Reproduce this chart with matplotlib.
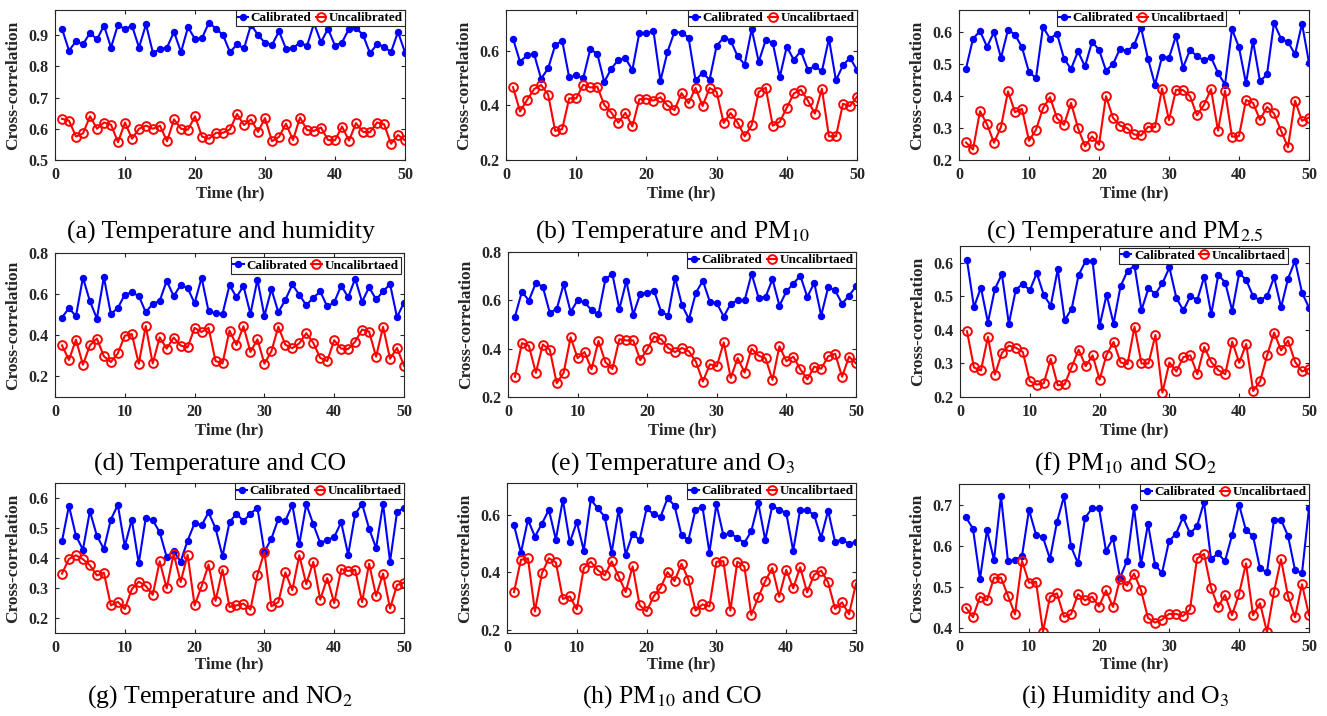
import matplotlib.pyplot as plt
import numpy as np

plt.rcParams['font.family'] = ['Liberation Serif', 'DejaVu Serif']
plt.rcParams['mathtext.fontset'] = 'stix'

hours = np.arange(1, 51)

# (a) Temperature and humidity
cal_a = [0.92, 0.85, 0.88, 0.87, 0.907, 0.886, 0.93, 0.86, 0.933, 0.918,
         0.93, 0.86, 0.934, 0.842, 0.855, 0.86, 0.91, 0.845, 0.925, 0.887,
         0.89, 0.94, 0.92, 0.90, 0.845, 0.87, 0.857, 0.933, 0.90, 0.875,
         0.868, 0.912, 0.856, 0.858, 0.876, 0.865, 0.937, 0.877, 0.92, 0.866,
         0.876, 0.92, 0.923, 0.90, 0.842, 0.87, 0.863, 0.845, 0.91, 0.844]
unc_a = [0.632, 0.626, 0.575, 0.585, 0.64, 0.60, 0.62, 0.613, 0.557, 0.62,
         0.568, 0.60, 0.61, 0.60, 0.61, 0.56, 0.63, 0.60, 0.597, 0.64,
         0.575, 0.568, 0.587, 0.587, 0.598, 0.647, 0.612, 0.63, 0.59, 0.634,
         0.56, 0.574, 0.616, 0.564, 0.636, 0.596, 0.593, 0.604, 0.564, 0.563,
         0.607, 0.562, 0.618, 0.59, 0.589, 0.62, 0.615, 0.552, 0.58, 0.563]

# (b) Temperature and PM10
cal_b = [0.645, 0.56, 0.584, 0.588, 0.498, 0.536, 0.62, 0.638, 0.503, 0.51,
         0.50, 0.606, 0.59, 0.486, 0.535, 0.567, 0.574, 0.53, 0.667, 0.664,
         0.674, 0.49, 0.596, 0.67, 0.667, 0.649, 0.492, 0.52, 0.494, 0.618,
         0.649, 0.638, 0.58, 0.55, 0.68, 0.56, 0.64, 0.63, 0.504, 0.616,
         0.567, 0.60, 0.531, 0.544, 0.525, 0.645, 0.492, 0.547, 0.575, 0.53]
unc_b = [0.467, 0.378, 0.42, 0.46, 0.475, 0.44, 0.307, 0.313, 0.426, 0.426,
         0.476, 0.466, 0.469, 0.402, 0.374, 0.337, 0.373, 0.323, 0.423, 0.425,
         0.418, 0.43, 0.40, 0.383, 0.445, 0.408, 0.464, 0.398, 0.464, 0.45,
         0.336, 0.372, 0.337, 0.287, 0.328, 0.45, 0.465, 0.326, 0.34, 0.392,
         0.444, 0.458, 0.418, 0.37, 0.461, 0.287, 0.287, 0.406, 0.398, 0.432]

# (c) Temperature and PM2.5
cal_c = [0.486, 0.58, 0.604, 0.555, 0.60, 0.52, 0.608, 0.593, 0.553, 0.475,
         0.457, 0.617, 0.58, 0.596, 0.518, 0.485, 0.54, 0.493, 0.57, 0.546,
         0.48, 0.50, 0.549, 0.54, 0.56, 0.615, 0.517, 0.436, 0.523, 0.52,
         0.589, 0.489, 0.545, 0.525, 0.512, 0.522, 0.473, 0.436, 0.61, 0.553,
         0.44, 0.573, 0.447, 0.468, 0.63, 0.58, 0.57, 0.531, 0.627, 0.505]
unc_c = [0.255, 0.233, 0.353, 0.312, 0.254, 0.304, 0.415, 0.35, 0.36, 0.26,
         0.295, 0.362, 0.397, 0.331, 0.31, 0.379, 0.30, 0.243, 0.274, 0.248,
         0.40, 0.332, 0.308, 0.30, 0.28, 0.277, 0.304, 0.303, 0.424, 0.325,
         0.42, 0.419, 0.40, 0.34, 0.373, 0.422, 0.292, 0.417, 0.273, 0.275,
         0.388, 0.379, 0.326, 0.366, 0.346, 0.292, 0.24, 0.386, 0.323, 0.333]

# (d) Temperature and CO
cal_d = [0.486, 0.532, 0.493, 0.68, 0.566, 0.481, 0.683, 0.504, 0.532, 0.598,
         0.608, 0.592, 0.512, 0.553, 0.567, 0.665, 0.59, 0.644, 0.63, 0.556,
         0.68, 0.517, 0.506, 0.504, 0.644, 0.585, 0.64, 0.504, 0.67, 0.494,
         0.624, 0.512, 0.572, 0.647, 0.597, 0.546, 0.582, 0.613, 0.54, 0.56,
         0.642, 0.585, 0.675, 0.563, 0.634, 0.574, 0.613, 0.649, 0.488, 0.559]
unc_d = [0.351, 0.28, 0.379, 0.257, 0.351, 0.384, 0.298, 0.27, 0.312, 0.398,
         0.406, 0.262, 0.445, 0.263, 0.39, 0.335, 0.389, 0.35, 0.341, 0.436,
         0.416, 0.436, 0.275, 0.263, 0.423, 0.353, 0.444, 0.319, 0.38, 0.262,
         0.322, 0.442, 0.354, 0.337, 0.361, 0.41, 0.363, 0.29, 0.275, 0.376,
         0.335, 0.333, 0.369, 0.428, 0.418, 0.296, 0.441, 0.286, 0.338, 0.252]

# (e) Temperature and O3
cal_e = [0.533, 0.636, 0.599, 0.672, 0.656, 0.549, 0.564, 0.667, 0.552, 0.60,
         0.592, 0.559, 0.542, 0.688, 0.709, 0.564, 0.68, 0.541, 0.627, 0.632,
         0.639, 0.553, 0.537, 0.694, 0.58, 0.522, 0.632, 0.681, 0.594, 0.588,
         0.533, 0.586, 0.60, 0.60, 0.71, 0.611, 0.614, 0.687, 0.578, 0.637,
         0.669, 0.702, 0.614, 0.672, 0.537, 0.654, 0.641, 0.586, 0.619, 0.658]
unc_e = [0.284, 0.423, 0.412, 0.30, 0.417, 0.396, 0.257, 0.301, 0.447, 0.361,
         0.386, 0.315, 0.432, 0.344, 0.316, 0.439, 0.434, 0.434, 0.353, 0.397,
         0.45, 0.439, 0.403, 0.386, 0.403, 0.389, 0.346, 0.264, 0.335, 0.327,
         0.426, 0.279, 0.361, 0.301, 0.40, 0.371, 0.36, 0.271, 0.41, 0.348,
         0.367, 0.315, 0.273, 0.326, 0.317, 0.368, 0.379, 0.284, 0.367, 0.339]

# (f) PM10 and SO2
cal_f = [0.608, 0.468, 0.526, 0.422, 0.522, 0.566, 0.418, 0.52, 0.537, 0.518,
         0.569, 0.504, 0.472, 0.58, 0.429, 0.463, 0.564, 0.605, 0.605, 0.412,
         0.505, 0.419, 0.53, 0.576, 0.591, 0.459, 0.524, 0.507, 0.539, 0.586,
         0.495, 0.458, 0.50, 0.49, 0.559, 0.447, 0.564, 0.541, 0.457, 0.569,
         0.549, 0.50, 0.488, 0.501, 0.557, 0.467, 0.553, 0.606, 0.511, 0.466]
unc_f = [0.396, 0.288, 0.279, 0.379, 0.267, 0.331, 0.353, 0.347, 0.334, 0.247,
         0.237, 0.241, 0.314, 0.235, 0.238, 0.29, 0.341, 0.292, 0.324, 0.252,
         0.326, 0.364, 0.303, 0.298, 0.409, 0.30, 0.30, 0.385, 0.213, 0.303,
         0.276, 0.319, 0.324, 0.268, 0.349, 0.304, 0.28, 0.268, 0.365, 0.302,
         0.358, 0.218, 0.247, 0.324, 0.392, 0.339, 0.368, 0.305, 0.276, 0.284]

# (g) Temperature and NO2
cal_g = [0.456, 0.574, 0.474, 0.428, 0.556, 0.474, 0.43, 0.528, 0.577, 0.439,
         0.528, 0.382, 0.533, 0.526, 0.486, 0.403, 0.423, 0.388, 0.458, 0.516,
         0.509, 0.552, 0.499, 0.406, 0.519, 0.548, 0.523, 0.548, 0.567, 0.421,
         0.464, 0.531, 0.524, 0.577, 0.446, 0.579, 0.513, 0.45, 0.46, 0.47,
         0.519, 0.411, 0.546, 0.58, 0.498, 0.433, 0.58, 0.388, 0.553, 0.567]
unc_g = [0.348, 0.397, 0.409, 0.396, 0.376, 0.342, 0.351, 0.242, 0.254, 0.23,
         0.296, 0.321, 0.307, 0.277, 0.389, 0.299, 0.414, 0.32, 0.411, 0.242,
         0.306, 0.378, 0.257, 0.361, 0.237, 0.242, 0.248, 0.228, 0.344, 0.42,
         0.239, 0.253, 0.352, 0.293, 0.409, 0.313, 0.387, 0.261, 0.333, 0.25,
         0.363, 0.357, 0.361, 0.253, 0.381, 0.274, 0.348, 0.232, 0.31, 0.318]

# (h) PM10 and CO
cal_h = [0.564, 0.468, 0.583, 0.524, 0.569, 0.617, 0.514, 0.652, 0.504, 0.575,
         0.476, 0.653, 0.622, 0.593, 0.469, 0.618, 0.462, 0.534, 0.512, 0.622,
         0.602, 0.593, 0.657, 0.632, 0.529, 0.513, 0.617, 0.628, 0.469, 0.636,
         0.529, 0.535, 0.52, 0.502, 0.543, 0.64, 0.512, 0.631, 0.617, 0.607,
         0.475, 0.618, 0.616, 0.599, 0.52, 0.614, 0.506, 0.514, 0.499, 0.506]
unc_h = [0.332, 0.444, 0.449, 0.265, 0.397, 0.449, 0.435, 0.308, 0.317, 0.272,
         0.415, 0.437, 0.408, 0.39, 0.438, 0.386, 0.332, 0.421, 0.286, 0.265,
         0.317, 0.347, 0.401, 0.37, 0.43, 0.375, 0.268, 0.289, 0.282, 0.437,
         0.439, 0.268, 0.437, 0.421, 0.253, 0.314, 0.37, 0.415, 0.316, 0.409,
         0.345, 0.418, 0.331, 0.392, 0.406, 0.366, 0.274, 0.296, 0.255, 0.361]

# (i) Humidity and O3
cal_i = [0.669, 0.641, 0.519, 0.638, 0.565, 0.72, 0.562, 0.565, 0.575, 0.687,
         0.627, 0.62, 0.568, 0.658, 0.72, 0.598, 0.557, 0.667, 0.691, 0.691,
         0.587, 0.618, 0.521, 0.563, 0.693, 0.555, 0.653, 0.554, 0.533, 0.611,
         0.629, 0.669, 0.63, 0.647, 0.706, 0.567, 0.581, 0.562, 0.625, 0.70,
         0.637, 0.624, 0.545, 0.535, 0.663, 0.663, 0.624, 0.541, 0.533, 0.691]
unc_i = [0.449, 0.426, 0.476, 0.467, 0.522, 0.522, 0.478, 0.433, 0.563, 0.51,
         0.512, 0.391, 0.476, 0.484, 0.427, 0.433, 0.482, 0.467, 0.476, 0.452,
         0.491, 0.451, 0.519, 0.503, 0.532, 0.492, 0.424, 0.413, 0.42, 0.434,
         0.434, 0.429, 0.445, 0.569, 0.58, 0.498, 0.451, 0.48, 0.431, 0.482,
         0.557, 0.431, 0.46, 0.39, 0.488, 0.567, 0.477, 0.426, 0.506, 0.431]

captions = ['(a) Temperature and humidity', '(b) Temperature and PM$_{10}$',
            '(c) Temperature and PM$_{2.5}$', '(d) Temperature and CO',
            '(e) Temperature and O$_3$', '(f) PM$_{10}$ and SO$_2$',
            '(g) Temperature and NO$_2$', '(h) PM$_{10}$ and CO',
            '(i) Humidity and O$_3$']
cal_all = [cal_a, cal_b, cal_c, cal_d, cal_e, cal_f, cal_g, cal_h, cal_i]
unc_all = [unc_a, unc_b, unc_c, unc_d, unc_e, unc_f, unc_g, unc_h, unc_i]
unc_names = ['Uncalibrated'] + ['Uncalibrtaed'] * 8

ylims = [(0.5, 0.98), (0.2, 0.75), (0.2, 0.67), (0.1, 0.8), (0.2, 0.8),
         (0.2, 0.65), (0.15, 0.65), (0.19, 0.71), (0.39, 0.75)]
yticks = [np.arange(0.5, 0.91, 0.1), [0.2, 0.4, 0.6], np.arange(0.2, 0.61, 0.1),
          [0.2, 0.4, 0.6, 0.8], [0.2, 0.4, 0.6, 0.8], np.arange(0.2, 0.61, 0.1),
          np.arange(0.2, 0.61, 0.1), [0.2, 0.4, 0.6], np.arange(0.4, 0.71, 0.1)]

# axes boxes in pixels: left, top, right, bottom
boxes = [(55, 10, 405, 160), (506, 10, 857, 160), (959, 10, 1309, 160),
         (55, 253, 404, 397), (508, 252, 856, 397), (960, 246, 1309, 397),
         (55, 483, 404, 633), (507, 483, 856, 633), (959, 484, 1309, 632)]
# legend upper-right corner in axes fraction
leg_anchor = [(1, 1), (1, 1), (0.764, 1), (0.99, 0.97), (1, 1),
              (0.94, 0.99), (1, 1), (1, 1), (1, 1)]
caption_y = [232, 464, 697]
label_y = [193, 430, 664]

W, H = 1327, 716
fig = plt.figure(figsize=(W / 100, H / 100), dpi=100)
dark = '#262626'

for k in range(9):
    l, t, r, b = boxes[k]
    ax = fig.add_axes([l / W, 1 - b / H, (r - l) / W, (b - t) / H])
    ax.plot(hours, cal_all[k], '-o', color='blue', lw=1.5, ms=4.3,
            label='Calibrated')
    ax.plot(hours, unc_all[k], '-o', color='red', lw=1.5, ms=6.3, mfc='none',
            mew=1.4, label=unc_names[k])
    ax.set_xlim(0, 50)
    ax.set_ylim(*ylims[k])
    ax.set_xticks(range(0, 51, 10))
    ax.set_yticks(yticks[k])
    ax.set_yticklabels(['%.1f' % v for v in yticks[k]])
    ax.tick_params(direction='in', top=True, right=True, length=3,
                   labelsize=11.5, colors=dark, labelcolor=dark, pad=5)
    for lab in ax.get_xticklabels() + ax.get_yticklabels():
        lab.set_fontweight('bold')
    for s in ax.spines.values():
        s.set_color(dark)
        s.set_linewidth(0.8)
    ax.set_ylabel('Cross-correlation', fontsize=12.5, fontweight='bold',
                  color=dark, labelpad=5)
    leg = ax.legend(loc='upper right', bbox_to_anchor=leg_anchor[k], ncol=2,
                    fancybox=False, framealpha=1, edgecolor=dark,
                    prop={'weight': 'bold', 'size': 9.5}, handlelength=0.8,
                    handletextpad=0.2, columnspacing=0.3, borderpad=0.15,
                    borderaxespad=0)
    leg.get_frame().set_linewidth(0.8)
    cx = (l + r) / 2 / W
    row = k // 3
    fig.text(cx, 1 - label_y[row] / H, 'Time (hr)', ha='center', va='center',
             fontsize=12, fontweight='bold', color=dark)
    fig.text((l - 18 + r) / 2 / W, 1 - caption_y[row] / H, captions[k],
             ha='center', va='center', fontsize=18.5)

fig.savefig('out.png', dpi=100)
